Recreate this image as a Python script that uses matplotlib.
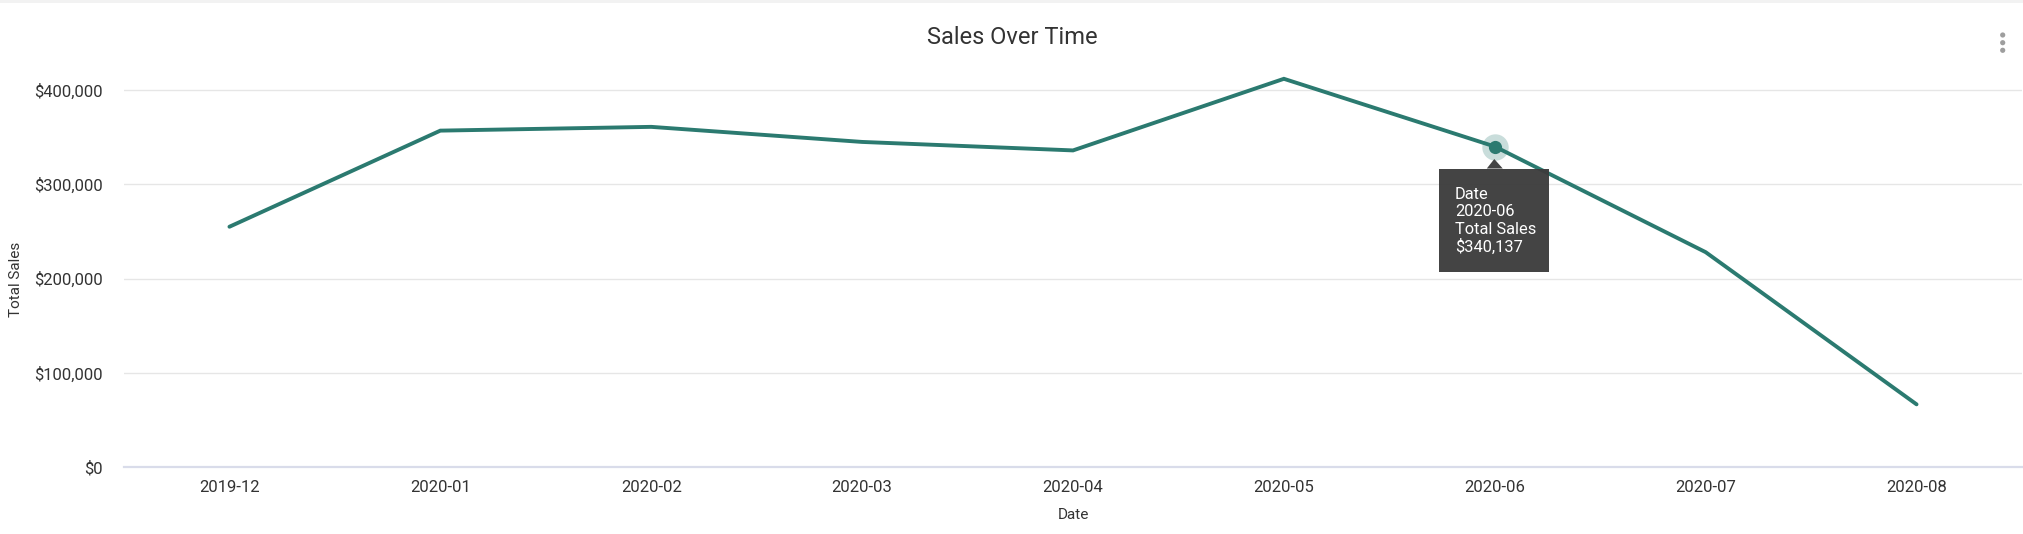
import matplotlib.pyplot as plt
import matplotlib as mpl
from matplotlib.patches import Rectangle, Circle, Polygon
from matplotlib.transforms import Affine2D, IdentityTransform
from matplotlib.ticker import FuncFormatter

# --- Data -------------------------------------------------------

dates = ["2019-12", "2020-01", "2020-02", "2020-03", "2020-04",
         "2020-05", "2020-06", "2020-07", "2020-08"]
total_sales = [255000, 357000, 361000, 345000, 336000,
               412000, 340137, 228000, 66500]
y_ticks = [0, 100000, 200000, 300000, 400000]
hover_index = 6

# --- Style -------------------------------------------------------

mpl.rcParams["font.family"] = ["Roboto", "DejaVu Sans"]
line_color = "#2b7a70"
text_color = "#333333"

W, H = 2024, 534
fig = plt.figure(figsize=(W / 100, H / 100), dpi=100)
fig.patch.set_facecolor("white")

# plot area in pixels: left 124, right 2022, bottom y=467, top y=43
ax = fig.add_axes([124 / W, 67 / H, (2022 - 124) / W, (467 - 43) / H])
ax.set_facecolor("none")

x = list(range(len(dates)))
ax.plot(x, total_sales, color=line_color, linewidth=2.8,
        solid_joinstyle="miter", solid_capstyle="round", zorder=3)

ax.set_xlim(-0.5, len(dates) - 0.5)
ax.set_ylim(0, 450000)
ax.set_xticks(x)
ax.set_xticklabels(dates)
ax.set_yticks(y_ticks)
ax.yaxis.set_major_formatter(FuncFormatter(lambda v, p: f"${v:,.0f}"))

ax.tick_params(axis="both", length=0, labelsize=12, labelcolor=text_color)
ax.tick_params(axis="y", pad=15)
ax.tick_params(axis="x", pad=9)

for spine in ["top", "right", "left"]:
    ax.spines[spine].set_visible(False)
ax.spines["bottom"].set_color("#d9dcea")
ax.spines["bottom"].set_linewidth(1.6)
ax.spines["bottom"].set_zorder(2)

ax.grid(axis="y", color="#e6e6e6", linewidth=1.0)
ax.set_axisbelow(True)

ax.set_xlabel("Date", fontsize=11, color=text_color, labelpad=10)
ax.set_ylabel("Total Sales", fontsize=11, color=text_color)
ax.yaxis.set_label_coords(23 / W, (H - 279) / H, transform=fig.transFigure)

fig.text(0.5, 1 - 38 / H, "Sales Over Time", ha="center", va="center",
         fontsize=17, color=text_color)

# top strip and menu icon
fig.patches.append(Rectangle((0, 1 - 3 / H), 1, 3 / H, transform=fig.transFigure,
                             facecolor="#f2f2f2", edgecolor="none"))
for dy in (35, 42.7, 50.3):
    fig.patches.append(Circle((2002.7, H - dy), 2.6, transform=IdentityTransform(),
                              facecolor="#9e9e9e", edgecolor="none"))

# --- Hover marker + tooltip ---------------------------------------

hx, hy = x[hover_index], total_sales[hover_index]
ax.plot(hx, hy, "o", markersize=19, color=line_color, alpha=0.25,
        markeredgewidth=0, zorder=4)
ax.plot(hx, hy, "o", markersize=9.5, color=line_color, markeredgewidth=0, zorder=5)

px, py = ax.transData.transform((hx, hy))
tr = Affine2D().translate(px, py)

box_fc = "#3c3c3c"
ax.add_patch(Rectangle((-56, -125), 110, 103, transform=tr,
                       facecolor=box_fc, edgecolor="none", alpha=0.96,
                       zorder=6, clip_on=False))
ax.add_patch(Polygon([(-8, -22), (8, -22), (-0.5, -12.5)], closed=True,
                     transform=tr, facecolor=box_fc, edgecolor="none",
                     alpha=0.96, zorder=6, clip_on=False))

tip_lines = ["Date", dates[hover_index], "Total Sales", f"${hy:,.0f}"]
for i, s in enumerate(tip_lines):
    ax.text(-40, -52 - 17.7 * i, s, transform=tr, color="white",
            fontsize=11.8, ha="left", va="baseline", zorder=7)

fig.savefig("out.png", dpi=100, facecolor="white")
